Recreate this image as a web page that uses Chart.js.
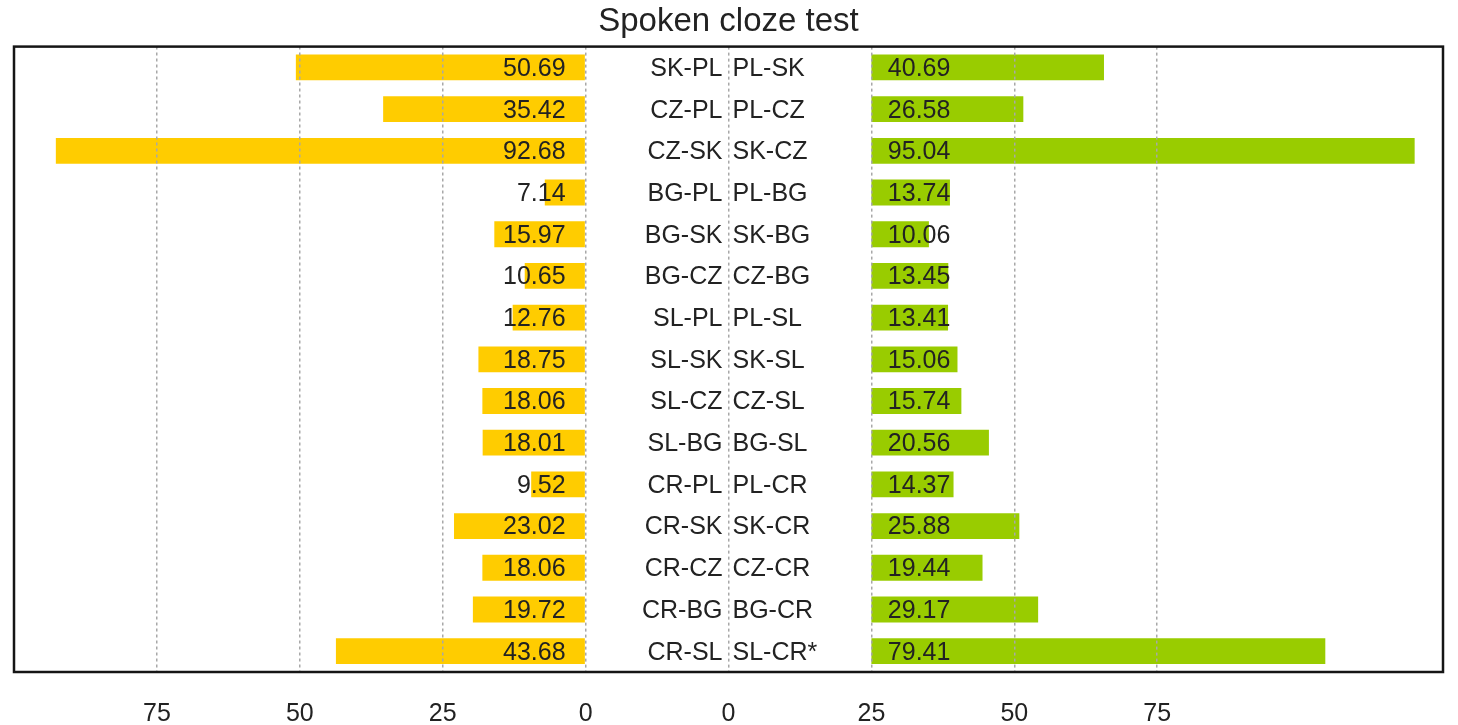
<!DOCTYPE html>
<html><head><meta charset="utf-8">
<script src="https://cdn.jsdelivr.net/npm/chart.js@4/dist/chart.umd.min.js"></script>
<style>html,body{margin:0;padding:0;background:#fff}#wrap{width:1458px;height:725px;position:relative}</style>
</head><body><div id="wrap"><canvas id="c"></canvas></div>
<script>
const chartTitle = 'Spoken cloze test';
const leftCategories = ['SK-PL','CZ-PL','CZ-SK','BG-PL','BG-SK','BG-CZ','SL-PL','SL-SK','SL-CZ','SL-BG','CR-PL','CR-SK','CR-CZ','CR-BG','CR-SL'];
const rightCategories = ['PL-SK','PL-CZ','SK-CZ','PL-BG','SK-BG','CZ-BG','PL-SL','SK-SL','CZ-SL','BG-SL','PL-CR','SK-CR','CZ-CR','BG-CR','SL-CR*'];
const leftValues = [50.69,35.42,92.68,7.14,15.97,10.65,12.76,18.75,18.06,18.01,9.52,23.02,18.06,19.72,43.68];
const rightValues = [40.69,26.58,95.04,13.74,10.06,13.45,13.41,15.06,15.74,20.56,14.37,25.88,19.44,29.17,79.41];
const leftTickLabels = ['75','50','25','0'];
const rightTickLabels = ['0','25','50','75'];

// layout of the shared horizontal scale (left panel reversed from 0, right panel bars from RIGHT_ZERO)
const RIGHT_ZERO = 50;
const YELLOW = '#FFCC00', GREEN = '#99CC00', TEXT = '#222222';
const FONT = "'Liberation Sans', Arial, sans-serif";

function tickLabel(v) {
  if (v >= -75 && v <= 0) return leftTickLabels[(v + 75) / 25];
  if (v >= 25 && v <= 100) return rightTickLabels[(v - 25) / 25];
  return '';
}

const labelPlugin = {
  id: 'labelPlugin',
  afterDatasetsDraw(chart) {
    const {ctx, scales: {x, y}} = chart;
    ctx.save();
    ctx.fillStyle = TEXT;
    ctx.font = '25px ' + FONT;
    ctx.textBaseline = 'middle';
    const x0 = x.getPixelForValue(0);
    const xr = x.getPixelForValue(RIGHT_ZERO);
    const xc = x.getPixelForValue(25);
    leftCategories.forEach((c, i) => {
      const py = y.getPixelForValue(i) + 1.5;
      ctx.textAlign = 'right';
      ctx.fillText(leftValues[i].toFixed(2), x0 - 20, py);
      ctx.fillText(c, xc - 6, py);
      ctx.textAlign = 'left';
      ctx.fillText(rightCategories[i], xc + 4, py);
      ctx.textAlign = 'right';
      ctx.fillText(rightValues[i].toFixed(2), xr + 79, py);
    });
    ctx.restore();
  },
  afterDraw(chart) {
    const {ctx, chartArea: a} = chart;
    ctx.save();
    ctx.strokeStyle = '#151515';
    ctx.lineWidth = 2.5;
    ctx.strokeRect(a.left, a.top, a.right - a.left, a.bottom - a.top);
    ctx.restore();
  }
};

new Chart(document.getElementById('c'), {
  type: 'bar',
  data: {
    labels: leftCategories,
    datasets: [
      { label: 'left', data: leftValues.map(v => [-v, 0]), backgroundColor: YELLOW, grouped: false,
        barPercentage: 0.62, categoryPercentage: 1, borderWidth: 0 },
      { label: 'right', data: rightValues.map(v => [RIGHT_ZERO, RIGHT_ZERO + v]), backgroundColor: GREEN, grouped: false,
        barPercentage: 0.62, categoryPercentage: 1, borderWidth: 0 }
    ]
  },
  options: {
    indexAxis: 'y',
    responsive: true,
    maintainAspectRatio: false,
    animation: false,
    layout: { padding: { left: 14, right: 15, top: 0, bottom: 0 } },
    plugins: {
      legend: { display: false },
      tooltip: { enabled: false },
      title: { display: true, text: chartTitle, color: TEXT, font: { family: FONT, size: 33, weight: 'normal' }, padding: { top: 2, bottom: 5 } }
    },
    scales: {
      x: {
        type: 'linear', min: -100, max: 150,
        ticks: { stepSize: 25, autoSkip: false, maxRotation: 0, padding: 30, color: TEXT,
          font: { family: FONT, size: 25, lineHeight: 1.0 }, callback: v => tickLabel(v) },
        grid: { drawTicks: false, z: 1, lineWidth: 1.5,
          color: ctx => (ctx.tick && ctx.tick.value >= -75 && ctx.tick.value <= 100) ? '#a8a8a8' : 'rgba(0,0,0,0)' },
        border: { display: false, dash: [3, 3] },
        afterFit: s => { s.height = 53; s.paddingLeft = 0; s.paddingRight = 0; s.paddingTop = 0; s.paddingBottom = 0; }
      },
      y: { type: 'category', display: false, offset: true, grid: { display: false } }
    }
  },
  plugins: [labelPlugin]
});
</script>
</body></html>
